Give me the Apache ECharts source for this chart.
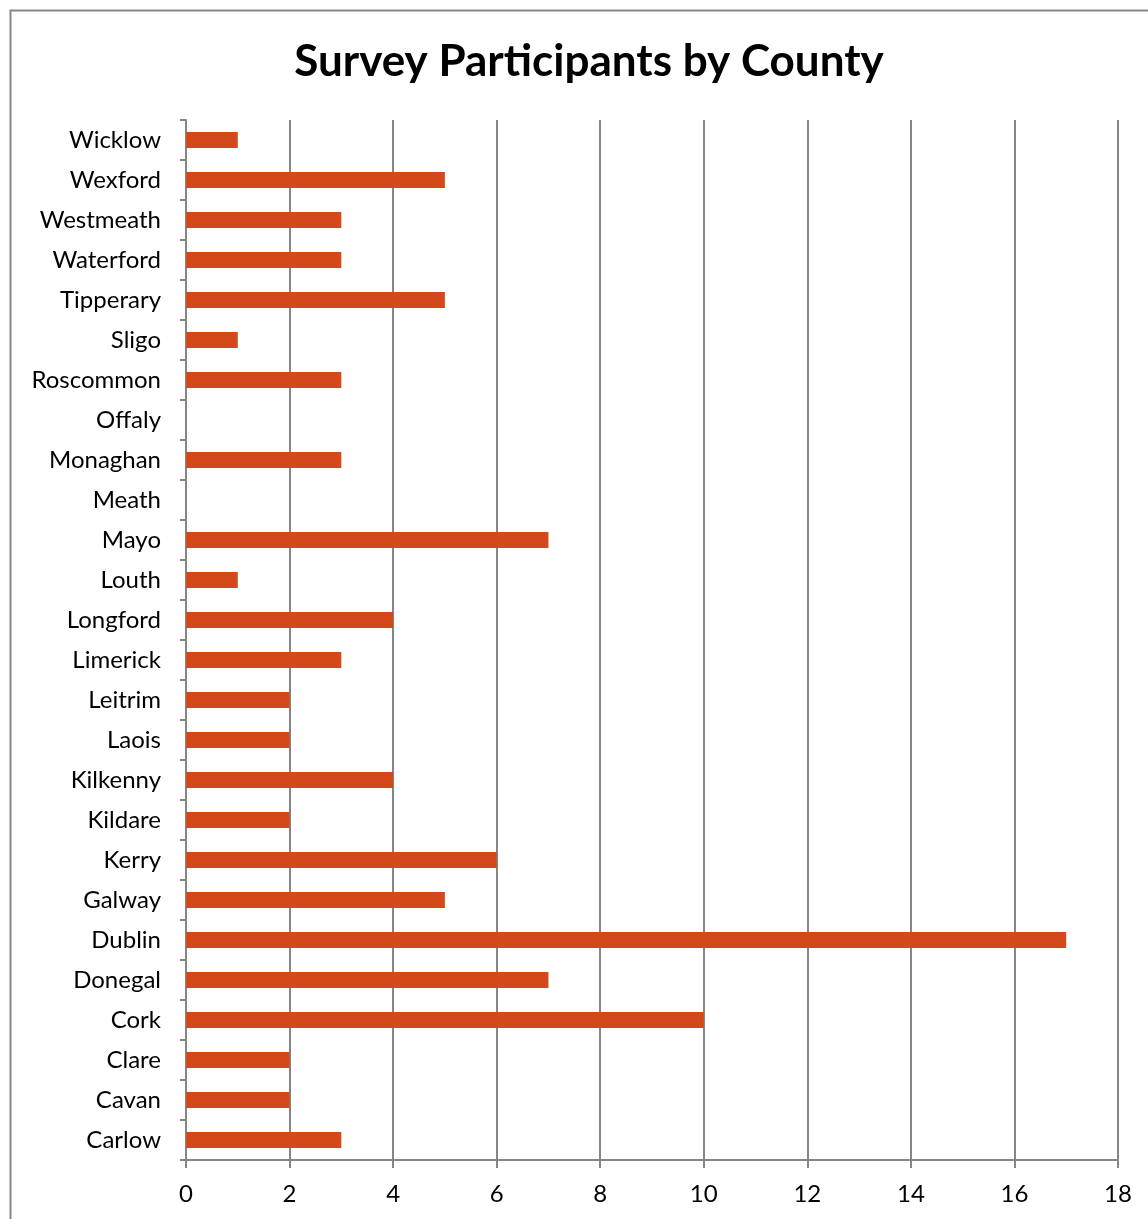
<!DOCTYPE html>
<html><head><meta charset="utf-8">
<script src="https://cdn.jsdelivr.net/npm/echarts@6/dist/echarts.min.js"></script>
<style>html,body{margin:0;padding:0;background:#fff}#c{width:1148px;height:1219px}</style>
</head><body><div id="c"></div>
<script>
var counties = ['Carlow','Cavan','Clare','Cork','Donegal','Dublin','Galway','Kerry','Kildare','Kilkenny','Laois','Leitrim','Limerick','Longford','Louth','Mayo','Meath','Monaghan','Offaly','Roscommon','Sligo','Tipperary','Waterford','Westmeath','Wexford','Wicklow'];
var participants = [3,2,2,10,7,17,5,6,2,4,2,2,3,4,1,7,0,3,0,3,1,5,3,3,5,1];
var xTicks = {min:0, max:18, interval:2};
var titleText = 'Survey Participants by County';

var font = 'Lato, "Open Sans", sans-serif';
var chart = echarts.init(document.getElementById('c'), null, {renderer:'canvas'});
chart.setOption({
  animation:false,
  backgroundColor:'#fff',
  title:{text:titleText,left:584,top:35,textAlign:'center',
    textStyle:{fontFamily:font,fontWeight:'bold',fontSize:44,color:'#000'}},
  grid:{left:186,top:120,right:30,bottom:59,containLabel:false},
  xAxis:{type:'value',min:xTicks.min,max:xTicks.max,interval:xTicks.interval,
    axisLine:{show:true,lineStyle:{color:'#868686',width:2}},
    axisTick:{show:true,length:8,lineStyle:{color:'#868686',width:2}},
    splitLine:{show:true,lineStyle:{color:'#868686',width:2}},
    axisLabel:{margin:22,fontFamily:font,fontSize:24,color:'#000'}},
  yAxis:{type:'category',data:counties,
    axisLine:{show:true,lineStyle:{color:'#868686',width:2}},
    axisTick:{show:true,length:6,alignWithLabel:false,lineStyle:{color:'#868686',width:2}},
    axisLabel:{margin:25,fontFamily:font,fontSize:24,color:'#000'}},
  series:[{type:'bar',data:participants,barWidth:16,
    itemStyle:{color:'#D4491A'}}],
  graphic:[{type:'rect',left:8,top:8,shape:{width:1300,height:1400},
    style:{fill:null,stroke:'#868686',lineWidth:2},silent:true,z:-1}]
});
</script></body></html>
